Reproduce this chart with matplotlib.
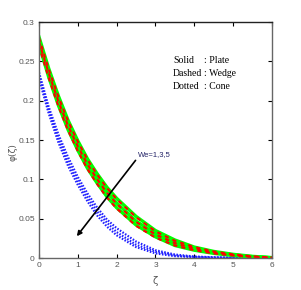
import numpy as np
import matplotlib
matplotlib.use('Agg')
import matplotlib.pyplot as plt

# zeta grid and profiles for We = 1, 3, 5
zeta = [0.0, 0.25, 0.5, 0.75, 1.0, 1.25, 1.5, 1.75, 2.0, 2.5, 3.0, 3.5, 4.0, 4.5, 5.0, 5.5, 6.0]

plate_we1 = [0.281, 0.241, 0.206, 0.175, 0.149, 0.126, 0.107, 0.090, 0.076, 0.053, 0.035, 0.023, 0.014, 0.0085, 0.0048, 0.0022, 0.0006]
plate_we3 = [0.276, 0.236, 0.200, 0.169, 0.143, 0.120, 0.101, 0.084, 0.070, 0.047, 0.031, 0.019, 0.012, 0.0072, 0.0040, 0.0018, 0.0005]
plate_we5 = [0.271, 0.230, 0.194, 0.163, 0.137, 0.114, 0.095, 0.078, 0.064, 0.042, 0.027, 0.016, 0.010, 0.0060, 0.0033, 0.0015, 0.0004]

wedge_we1 = [0.280, 0.240, 0.205, 0.174, 0.148, 0.125, 0.106, 0.089, 0.075, 0.052, 0.034, 0.022, 0.014, 0.0084, 0.0047, 0.0022, 0.0006]
wedge_we3 = [0.275, 0.235, 0.199, 0.168, 0.142, 0.119, 0.100, 0.083, 0.069, 0.046, 0.030, 0.019, 0.012, 0.0071, 0.0040, 0.0018, 0.0005]
wedge_we5 = [0.270, 0.229, 0.193, 0.162, 0.136, 0.113, 0.094, 0.077, 0.063, 0.041, 0.026, 0.016, 0.010, 0.0059, 0.0033, 0.0015, 0.0004]

cone_we1 = [0.236, 0.192, 0.157, 0.128, 0.103, 0.082, 0.064, 0.049, 0.038, 0.021, 0.010, 0.0045, 0.002, 0.0010, 0.0005, 0.0002, 0.0001]
cone_we3 = [0.232, 0.188, 0.152, 0.122, 0.098, 0.077, 0.059, 0.045, 0.033, 0.017, 0.008, 0.0035, 0.0015, 0.0007, 0.0003, 0.0001, 0.0]
cone_we5 = [0.228, 0.184, 0.147, 0.117, 0.093, 0.072, 0.054, 0.040, 0.029, 0.014, 0.006, 0.0025, 0.0012, 0.0005, 0.0002, 0.0001, 0.0]

x_ticks = [0, 1, 2, 3, 4, 5, 6]
y_ticks = [0, 0.05, 0.1, 0.15, 0.2, 0.25, 0.3]
y_tick_labels = ['0', '0.05', '0.1', '0.15', '0.2', '0.25', '0.3']

plt.rcParams['font.family'] = ['Liberation Sans', 'DejaVu Sans']

fig = plt.figure(figsize=(3.01, 2.90), dpi=100)
ax = fig.add_axes([0.1296, 0.110, 0.774, 0.814])

for y in (cone_we1, cone_we3, cone_we5):
    ax.plot(zeta, y, color='#2020ff', ls=(0, (0.7, 0.7)), lw=1.6)
for y in (plate_we1, plate_we3, plate_we5):
    ax.plot(zeta, y, color='#00ff00', ls='-', lw=2.4)
for y in (wedge_we1, wedge_we3, wedge_we5):
    ax.plot(zeta, y, color='#ff0000', ls=(0, (2.0, 2.0)), lw=1.5)

ax.set_xlim(0, 6)
ax.set_ylim(0, 0.3)
ax.set_xticks(x_ticks)
ax.set_yticks(y_ticks)
ax.set_yticklabels(y_tick_labels)
ax.tick_params(direction='in', top=True, right=True, labelsize=6,
               labelcolor='#555555', length=3, width=0.8, pad=3)
for s in ax.spines.values():
    s.set_color('#666666')
    s.set_linewidth(1.0)
ax.spines['top'].set_color('#222222')

ax.set_xlabel('ζ', fontsize=7, color='#555555', family='DejaVu Sans')
ax.set_ylabel('φ(ζ)', fontsize=6.5, color='#555555', family='DejaVu Sans')
ax.xaxis.set_label_coords(0.5, -0.075)
ax.yaxis.set_label_coords(-0.094, 0.45)

serif = {'family': 'Liberation Serif', 'size': 7}
labels = ['Solid', 'Dashed', 'Dotted']
shapes = [': Plate', ': Wedge', ': Cone']
ypos = [0.251, 0.235, 0.218]
for lab, shp, yy in zip(labels, shapes, ypos):
    ax.text(3.45, yy, lab, fontdict=serif, va='center')
    ax.text(4.25, yy, shp, fontdict=serif, va='center')

ax.annotate('', xy=(0.93, 0.025), xytext=(2.53, 0.127),
            arrowprops=dict(arrowstyle='-|>', color='black', lw=1.2,
                            mutation_scale=7))
ax.text(2.55, 0.132, 'We=1,3,5', fontsize=5.5, va='center', ha='left',
        color='#222266')

fig.savefig('out.png', dpi=100)
